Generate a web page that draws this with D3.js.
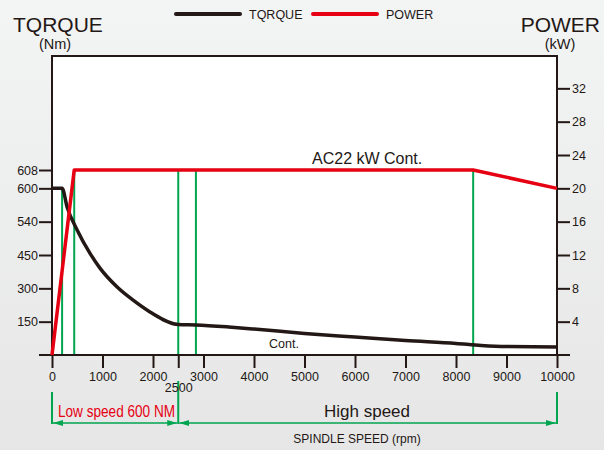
<!DOCTYPE html>
<html><head><meta charset="utf-8">
<script src="https://cdn.jsdelivr.net/npm/d3@7"></script>
<style>
html,body{margin:0;padding:0;}
svg{display:block;font-family:"Liberation Sans",Arial,Helvetica,sans-serif;}
</style></head>
<body><svg id="c" width="604" height="450"></svg>
<script>
// ---- data ----
const speedTicks = [0,1000,2000,3000,4000,5000,6000,7000,8000,9000,10000];
const extraSpeedTick = 2500;
const powerTicks = [4,8,12,16,20,24,28,32];
const torqueTicks = [150,300,450,540,600,608];
const torqueTickKw = [4,8,12,16,20,22.2];   // kW level each torque label is printed at

const powerSpeed = [0,440,8340,10000];
const powerKw    = [0,22.2,22.2,20];

const torqueSpeed = [0,200,300,500,750,950,1290,1600,1940,2500,2850,3500,4000,5000,6000,7000,8000,8500,9000,10000];
const torqueNm    = [600,600,566,517,455,391,306,248,194,137,135,126,117,97,81,65,52,43,38,36];

const guideSpeeds = [200,440,2500,2850,8340];
const ranges = [{from:0,to:2500,label:"Low speed 600 NM"},{from:2500,to:10000,label:"High speed"}];

// ---- layout ----
const svg = d3.select("#c");
const L=52, R=557, T=56, B=355;
const BLACK="#231815", RED="#e60012", GREEN="#00a550";

const defs = svg.append("defs");
const grad = defs.append("linearGradient").attr("id","bg").attr("x1",0).attr("y1",0).attr("x2",0).attr("y2",1);
grad.append("stop").attr("offset","0%").attr("stop-color","#f3f4f4");
grad.append("stop").attr("offset","100%").attr("stop-color","#e6e6e6");
defs.append("marker").attr("id","arr").attr("viewBox","0 0 10 8").attr("refX",10).attr("refY",4)
  .attr("markerWidth",10).attr("markerHeight",8).attr("markerUnits","userSpaceOnUse").attr("orient","auto-start-reverse")
  .append("path").attr("d","M0,1L10,4L0,7Z").attr("fill",GREEN);

svg.append("rect").attr("width",604).attr("height",450).attr("fill","url(#bg)");
svg.append("rect").attr("x",L).attr("y",T).attr("width",R-L).attr("height",B-T).attr("fill","#fff");

const x = d3.scaleLinear().domain([0,10000]).range([L,R]);
const yP = d3.scaleLinear().domain([0,36]).range([B, B - 36*8.333]);
const yT = d3.scaleLinear().domain([0,...torqueTicks]).range([0,...torqueTickKw].map(yP));

const interp = (xs,ys,v)=>{for(let i=1;i<xs.length;i++){if(v<=xs[i]){const t=(v-xs[i-1])/(xs[i]-xs[i-1]);return ys[i-1]+t*(ys[i]-ys[i-1]);}}return ys[ys.length-1];};

// green guide lines
svg.append("g").selectAll("line").data(guideSpeeds).join("line")
  .attr("x1",d=>x(d)).attr("x2",d=>x(d)).attr("y1",B)
  .attr("y2",d=>Math.min(yP(interp(powerSpeed,powerKw,d)), yT(interp(torqueSpeed,torqueNm,d))))
  .attr("stroke",GREEN).attr("stroke-width",2);

// frame
svg.append("path").attr("d",`M${L},${B}V${T}H${R}V${B}`).attr("fill","none").attr("stroke",BLACK).attr("stroke-width",2);

function styleAxis(g){
  g.select(".domain").remove();
  g.selectAll("line").attr("stroke",BLACK).attr("stroke-width",2);
  g.selectAll("text").attr("font-size",12.5).attr("fill",BLACK).attr("font-family","Liberation Sans, Arial, sans-serif");
}
// x axis
const gx = svg.append("g").attr("transform",`translate(0,${B})`)
  .call(d3.axisBottom(x).tickValues(speedTicks).tickSize(13).tickPadding(4).tickFormat(d3.format("d")));
styleAxis(gx);
const gx2 = svg.append("g").attr("transform",`translate(0,${B})`)
  .call(d3.axisBottom(x).tickValues([extraSpeedTick]).tickSize(13).tickPadding(15).tickFormat(d3.format("d")));
styleAxis(gx2);
svg.append("line").attr("x1",L-13).attr("x2",R+13).attr("y1",B).attr("y2",B).attr("stroke",BLACK).attr("stroke-width",2);

// left axis
const gl = svg.append("g").attr("transform",`translate(${L},0)`)
  .call(d3.axisLeft(yT).tickValues(torqueTicks).tickSize(13).tickPadding(1));
styleAxis(gl);

// right axis
const gr = svg.append("g").attr("transform",`translate(${R},0)`)
  .call(d3.axisRight(yP).tickValues(powerTicks).tickSize(13).tickPadding(2));
styleAxis(gr);

// curves
const torquePts = torqueSpeed.map((s,i)=>[x(s),yT(torqueNm[i])]);
svg.append("path").attr("d",d3.line().curve(d3.curveMonotoneX)(torquePts))
  .attr("fill","none").attr("stroke",BLACK).attr("stroke-width",3.5).attr("stroke-linejoin","round");
const powerPts = powerSpeed.map((s,i)=>[x(s),yP(powerKw[i])]);
svg.append("path").attr("d",d3.line()(powerPts))
  .attr("fill","none").attr("stroke",RED).attr("stroke-width",3.5).attr("stroke-linejoin","round");

// annotations
svg.append("text").attr("x",312).attr("y",164).attr("font-size",16).attr("fill",BLACK).text("AC22 kW Cont.");
svg.append("text").attr("x",269).attr("y",348).attr("font-size",12.5).attr("fill",BLACK).text("Cont.");

// titles
svg.append("text").attr("x",13).attr("y",32).attr("font-size",21).attr("fill",BLACK).text("TQRQUE");
svg.append("text").attr("x",55).attr("y",49).attr("font-size",14.5).attr("text-anchor","middle").attr("fill",BLACK).text("(Nm)");
svg.append("text").attr("x",600).attr("y",32).attr("font-size",21).attr("text-anchor","end").attr("fill",BLACK).text("POWER");
svg.append("text").attr("x",560).attr("y",49).attr("font-size",14.5).attr("text-anchor","middle").attr("fill",BLACK).text("(kW)");

// legend
const leg = [{label:"TQRQUE",color:BLACK,x0:176},{label:"POWER",color:RED,x0:313}];
const lg = svg.append("g").selectAll("g").data(leg).join("g");
lg.append("line").attr("x1",d=>d.x0).attr("x2",d=>d.x0+64).attr("y1",14).attr("y2",14)
  .attr("stroke",d=>d.color).attr("stroke-width",4).attr("stroke-linecap","round");
lg.append("text").attr("x",d=>d.x0+73).attr("y",18.5).attr("font-size",12.5).attr("fill",BLACK).text(d=>d.label);

// speed range brackets
const br = svg.append("g");
br.selectAll("line.v").data([0,2500,10000]).join("line").attr("class","v")
  .attr("x1",d=>x(d)).attr("x2",d=>x(d)).attr("y1",d=>d===2500?381:392).attr("y2",424)
  .attr("stroke",GREEN).attr("stroke-width",2);
br.selectAll("line.h").data(ranges).join("line").attr("class","h")
  .attr("x1",d=>x(d.from)+1).attr("x2",d=>x(d.to)-1).attr("y1",423).attr("y2",423)
  .attr("stroke",GREEN).attr("stroke-width",1.5)
  .attr("marker-start","url(#arr)").attr("marker-end","url(#arr)");
svg.append("text").attr("x",x(0)+6).attr("y",417).attr("font-size",16.5).attr("fill",RED)
  .attr("textLength",117).attr("lengthAdjust","spacingAndGlyphs").text(ranges[0].label);
svg.append("text").attr("x",367).attr("y",417).attr("font-size",17).attr("text-anchor","middle").attr("fill",BLACK).text(ranges[1].label);
svg.append("text").attr("x",357).attr("y",443).attr("font-size",12).attr("text-anchor","middle").attr("fill",BLACK).text("SPINDLE SPEED (rpm)");

gx2.raise();
</script></body></html>
